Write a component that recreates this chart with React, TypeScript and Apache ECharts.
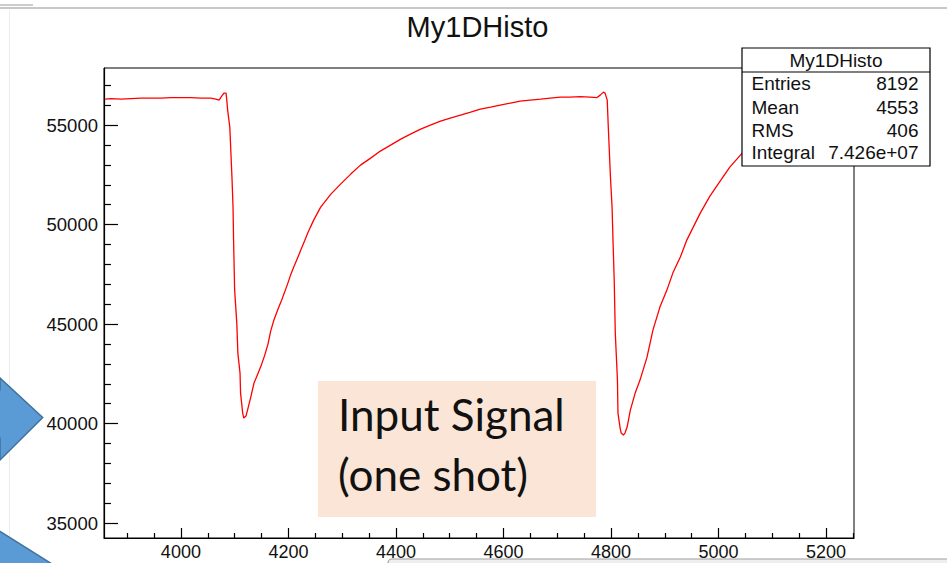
import React, { useEffect, useRef } from "react";
import * as echarts from "echarts";

// Histogram "My1DHisto" — bin position (x) and bin content (y)
const binX = [
  3859, 3870, 3889, 3907, 3926, 3944, 3963, 3981, 4000, 4019, 4037, 4056, 4065, 4071, 4076, 4080, 4084,
  4085, 4087, 4091, 4095, 4097, 4098, 4100, 4104, 4106, 4110, 4111, 4115, 4117, 4121, 4124, 4130, 4136,
  4143, 4149, 4156, 4162, 4167, 4173, 4180, 4186, 4193, 4199, 4204, 4210, 4217, 4223, 4230, 4236, 4241,
  4247, 4253, 4260, 4279, 4297, 4316, 4334, 4353, 4371, 4390, 4409, 4427, 4446, 4464, 4483, 4501, 4520,
  4539, 4557, 4576, 4594, 4613, 4631, 4650, 4669, 4687, 4706, 4724, 4743, 4761, 4774, 4780, 4786, 4789,
  4793, 4795, 4799, 4802, 4804, 4806, 4808, 4812, 4813, 4817, 4819, 4823, 4826, 4830, 4836, 4845, 4854,
  4867, 4878, 4891, 4904, 4915, 4929, 4941, 4953, 4966, 4984, 5003, 5021, 5044, 5077, 5114, 5151, 5188,
  5226, 5252,
];
const binContent = [
  56306, 56331, 56306, 56331, 56357, 56357, 56357, 56382, 56382, 56382, 56357, 56357, 56306, 56256, 56457, 56608, 56608,
  56357, 55753, 54900, 52387, 50879, 49221, 46708, 45050, 43543, 42538, 41533, 40528, 40276, 40377, 40678, 41332, 42035,
  42487, 42889, 43442, 43995, 44648, 45201, 45704, 46105, 46608, 47060, 47462, 47865, 48317, 48719, 49171, 49573, 49874,
  50226, 50528, 50879, 51532, 52035, 52538, 52990, 53342, 53694, 53995, 54297, 54548, 54799, 55000, 55201, 55352, 55503,
  55653, 55804, 55905, 56005, 56106, 56206, 56256, 56306, 56357, 56407, 56407, 56432, 56407, 56382, 56507, 56658, 56608,
  56256, 54900, 52387, 50879, 48970, 47211, 44548, 42186, 40528, 39774, 39523, 39422, 39523, 39824, 40678, 41533, 42186,
  43342, 44698, 45854, 46708, 47563, 48367, 49221, 49874, 50578, 51432, 52186, 52890, 53593, 54246, 54749, 55151, 55452,
  55703, 55854,
];

const xMajorTicks = [4000, 4200, 4400, 4600, 4800, 5000, 5200];
const xMinorTicks = [
  3900, 3950, 4050, 4100, 4150, 4250, 4300, 4350, 4450, 4500, 4550, 4650, 4700, 4750, 4850, 4900, 4950, 5050,
  5100, 5150, 5250,
];
const yMajorTicks = [35000, 40000, 45000, 50000, 55000];
const yMinorTicks = [
  36000, 37000, 38000, 39000, 41000, 42000, 43000, 44000, 46000, 47000, 48000, 49000, 51000, 52000, 53000,
  54000, 56000, 57000,
];

const histTitle = "My1DHisto";
const statLabels = ["Entries", "Mean", "RMS", "Integral"];
const statValues = ["8192", "4553", "406", "7.426e+07"];
const noteLines = ["Input Signal", "(one shot)"];

const X_MIN = 3857;
const X_MAX = 5252;
const Y_MIN = 34250;
const Y_MAX = 57870;

const FONT = "'Liberation Sans', Arial, Helvetica, sans-serif";
const NOTE_FONT = "Lato, 'Open Sans', sans-serif";

export default function App() {
  const ref = useRef<HTMLDivElement>(null);

  useEffect(() => {
    if (!ref.current) return;
    const chart = echarts.init(ref.current, null, { renderer: "svg" });

    const statRowY = [83.5, 107, 130, 152];

    const option: any = {
      animation: false,
      backgroundColor: "#ffffff",
      grid: {
        left: 104,
        top: 68,
        width: 750,
        height: 470,
        show: true,
        borderColor: "#000",
        borderWidth: 1,
        backgroundColor: "transparent",
      },
      xAxis: [
        {
          type: "value",
          position: "bottom",
          min: X_MIN,
          max: X_MAX,
          axisLine: { show: true, onZero: false, lineStyle: { color: "#000", width: 1.2 } },
          axisTick: {
            show: true,
            inside: true,
            length: 10,
            customValues: xMajorTicks,
            lineStyle: { color: "#000", width: 1.2 },
          },
          axisLabel: {
            customValues: xMajorTicks,
            color: "#111",
            fontSize: 18,
            fontFamily: FONT,
            margin: 5,
            formatter: (v: number) => String(v),
          },
          splitLine: { show: false },
        },
        {
          type: "value",
          position: "bottom",
          min: X_MIN,
          max: X_MAX,
          axisLine: { show: false, onZero: false },
          axisTick: {
            show: true,
            inside: true,
            length: 5,
            customValues: xMinorTicks,
            lineStyle: { color: "#000", width: 1.2 },
          },
          axisLabel: { show: false },
          splitLine: { show: false },
        },
      ],
      yAxis: [
        {
          type: "value",
          position: "left",
          min: Y_MIN,
          max: Y_MAX,
          axisLine: { show: true, onZero: false, lineStyle: { color: "#000", width: 1.2 } },
          axisTick: {
            show: true,
            inside: true,
            length: 14,
            customValues: yMajorTicks,
            lineStyle: { color: "#000", width: 1.2 },
          },
          axisLabel: {
            customValues: yMajorTicks,
            color: "#111",
            fontSize: 18.5,
            fontFamily: FONT,
            margin: 6,
            formatter: (v: number) => String(v),
          },
          splitLine: { show: false },
        },
        {
          type: "value",
          position: "left",
          min: Y_MIN,
          max: Y_MAX,
          axisLine: { show: false, onZero: false },
          axisTick: {
            show: true,
            inside: true,
            length: 7,
            customValues: yMinorTicks,
            lineStyle: { color: "#000", width: 1.2 },
          },
          axisLabel: { show: false },
          splitLine: { show: false },
        },
      ],
      series: [
        {
          type: "line",
          xAxisIndex: 0,
          yAxisIndex: 0,
          data: binX.map((x, i) => [x, binContent[i]]),
          showSymbol: false,
          symbol: "none",
          lineStyle: { color: "#ff0000", width: 1.3 },
          z: 3,
        },
      ],
      graphic: [
        // window chrome lines
        { type: "line", z: 50, shape: { x1: 0, y1: 8, x2: 947, y2: 8 }, style: { stroke: "#c8c8c8", lineWidth: 2 } },
        { type: "line", z: 51, shape: { x1: 0, y1: 5, x2: 33, y2: 5 }, style: { stroke: "#9a9a9a", lineWidth: 1 } },
        { type: "line", z: 50, shape: { x1: 9.5, y1: 10, x2: 9.5, y2: 563 }, style: { stroke: "#ececec", lineWidth: 1 } },
        {
          type: "rect",
          z: 50,
          shape: { x: 388, y: 559, width: 620, height: 20, r: 4 },
          style: { fill: "#eeeeee", stroke: "#a0a0a0", lineWidth: 1.2 },
        },
        // blue arrows at the left
        {
          type: "polygon",
          z: 60,
          shape: {
            points: [
              [-60, 390],
              [0, 390],
              [0, 378],
              [42.7, 417.5],
              [0, 460],
              [0, 438],
              [-60, 438],
            ],
          },
          style: { fill: "#5b9bd5", stroke: "#41719c", lineWidth: 1.5 },
        },
        {
          type: "polygon",
          z: 60,
          shape: {
            points: [
              [-10, 525],
              [52, 564],
              [-10, 564],
            ],
          },
          style: { fill: "#5b9bd5", stroke: "#41719c", lineWidth: 1.5 },
        },
        // title
        {
          type: "text",
          z: 60,
          x: 477.5,
          y: 27,
          style: {
            text: histTitle,
            fontSize: 29,
            fontFamily: FONT,
            fill: "#111",
            align: "center",
            verticalAlign: "middle",
          },
        },
        // stats box
        {
          type: "rect",
          z: 70,
          shape: { x: 742, y: 48, width: 188, height: 118 },
          style: { fill: "#ffffff", stroke: "#000", lineWidth: 1.2 },
        },
        {
          type: "line",
          z: 71,
          shape: { x1: 742, y1: 72, x2: 930, y2: 72 },
          style: { stroke: "#000", lineWidth: 1.2 },
        },
        {
          type: "text",
          z: 71,
          x: 836,
          y: 60.5,
          style: { text: histTitle, fontSize: 19, fontFamily: FONT, fill: "#111", align: "center", verticalAlign: "middle" },
        },
        ...statLabels.map((s, i) => ({
          type: "text",
          z: 71,
          x: 751.5,
          y: statRowY[i],
          style: { text: s, fontSize: 19, fontFamily: FONT, fill: "#111", align: "left", verticalAlign: "middle" },
        })),
        ...statValues.map((s, i) => ({
          type: "text",
          z: 71,
          x: 918.5,
          y: statRowY[i],
          style: { text: s, fontSize: 19, fontFamily: FONT, fill: "#111", align: "right", verticalAlign: "middle" },
        })),
        // annotation box
        {
          type: "rect",
          z: 40,
          shape: { x: 318, y: 381, width: 278, height: 136 },
          style: { fill: "#fbe5d6" },
        },
        {
          type: "text",
          z: 41,
          x: 338,
          y: 414,
          style: { text: noteLines[0], fontSize: 44, fontFamily: NOTE_FONT, fill: "#111", align: "left", verticalAlign: "middle" },
        },
        {
          type: "text",
          z: 41,
          x: 338,
          y: 474,
          style: { text: noteLines[1], fontSize: 44, fontFamily: NOTE_FONT, fill: "#111", align: "left", verticalAlign: "middle" },
        },
      ],
    };

    chart.setOption(option);
    return () => chart.dispose();
  }, []);

  return (
    <div
      ref={ref}
      style={{ position: "fixed", left: 0, top: 0, width: 947, height: 563, background: "#fff" }}
    />
  );
}
